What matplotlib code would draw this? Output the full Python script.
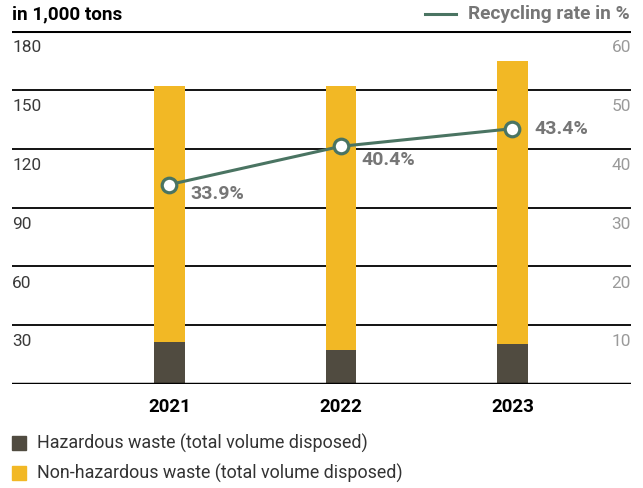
import matplotlib
matplotlib.use("Agg")
import matplotlib.pyplot as plt
from matplotlib.transforms import blended_transform_factory
from matplotlib.patches import Rectangle
from matplotlib.lines import Line2D

years = ["2021", "2022", "2023"]
hazardous = [21.4, 17.3, 20.3]
non_hazardous = [130.6, 134.7, 144.4]
recycling_rate = [33.9, 40.4, 43.4]
rate_labels = ["33.9%", "40.4%", "43.4%"]
left_ticks = [30, 60, 90, 120, 150, 180]
right_ticks = [10, 20, 30, 40, 50, 60]

C_HAZ = "#504b40"
C_NON = "#f2b825"
C_LINE = "#4a7462"
C_GREY = "#767676"

plt.rcParams['font.family'] = ['Roboto', 'DejaVu Sans']

fig = plt.figure(figsize=(6.43, 4.88), dpi=100)
ax = fig.add_axes([12/643, (488-384)/488, (631-12)/643, (384-31)/488])
ax.set_xlim(-0.918, 2.691)
ax.set_ylim(0, 180)
for s in ax.spines.values():
    s.set_visible(False)
ax.set_xticks([])
ax.set_yticks([])

# gridlines
for t in left_ticks:
    ax.axhline(t, color="black", lw=1.3 if t != 180 else 2.2, zorder=1)
ax.axhline(0, color="black", lw=2.5, zorder=3)

x = list(range(len(years)))
ax.bar(x, hazardous, width=0.18, color=C_HAZ, zorder=2)
ax.bar(x, non_hazardous, width=0.18, bottom=hazardous, color=C_NON, zorder=2)

tr = blended_transform_factory(ax.transAxes, ax.transData)
for t in left_ticks:
    ax.annotate(str(t), xy=(0.0, t), xycoords=tr, xytext=(0, -12), textcoords="offset points",
                ha="left", va="center", fontsize=12.4, color="#3a3a3a")
for lt, rt in zip(left_ticks, right_ticks):
    ax.annotate(str(rt), xy=(1.0, lt), xycoords=tr, xytext=(0, -12), textcoords="offset points",
                ha="right", va="center", fontsize=12.4, color="#9a9a9a")

# year labels
for xi, y in zip(x, years):
    ax.annotate(y, xy=(xi, 0), xycoords="data", xytext=(0, -16.5), textcoords="offset points",
                ha="center", va="center", fontsize=13.4, fontweight="bold", color="black")

ax2 = ax.twinx()
ax2.set_ylim(0, 60)
ax2.set_xlim(ax.get_xlim())
for s in ax2.spines.values():
    s.set_visible(False)
ax2.set_yticks([])
ax2.plot(x, recycling_rate, color=C_LINE, lw=2.2, marker="o", markersize=10.5,
         markerfacecolor="white", markeredgecolor=C_LINE, markeredgewidth=2.3, zorder=5)
offsets = [(15, -7), (15, -10), (16, -0.5)]
for xi, v, lab, off in zip(x, recycling_rate, rate_labels, offsets):
    ax2.annotate(lab, xy=(xi, v), xytext=off, textcoords="offset points", ha="left",
                 va="center", fontsize=14, fontweight="bold", color=C_GREY)

# header
fig.text(12/643, 1-14/488, "in 1,000 tons", ha="left", va="center", fontsize=13.6,
         fontweight="bold", color="black")
fig.text(630/643, 1-14/488, "Recycling rate in %", ha="right", va="center", fontsize=13.8,
         fontweight="bold", color=C_GREY)
fig.add_artist(Line2D([425/643, 456/643], [1-14/488, 1-14/488], color=C_LINE, lw=2.2))

# legend
fig.add_artist(Rectangle((12/643, 1-450/488), 14/643, 14/488, color=C_HAZ))
fig.text(37/643, 1-443/488, "Hazardous waste (total volume disposed)", ha="left",
         va="center", fontsize=12.9, color="#333333")
fig.add_artist(Rectangle((12/643, 1-480/488), 14/643, 14/488, color=C_NON))
fig.text(37/643, 1-473/488, "Non-hazardous waste (total volume disposed)", ha="left",
         va="center", fontsize=12.9, color="#333333")

fig.savefig("out.png", dpi=100)
